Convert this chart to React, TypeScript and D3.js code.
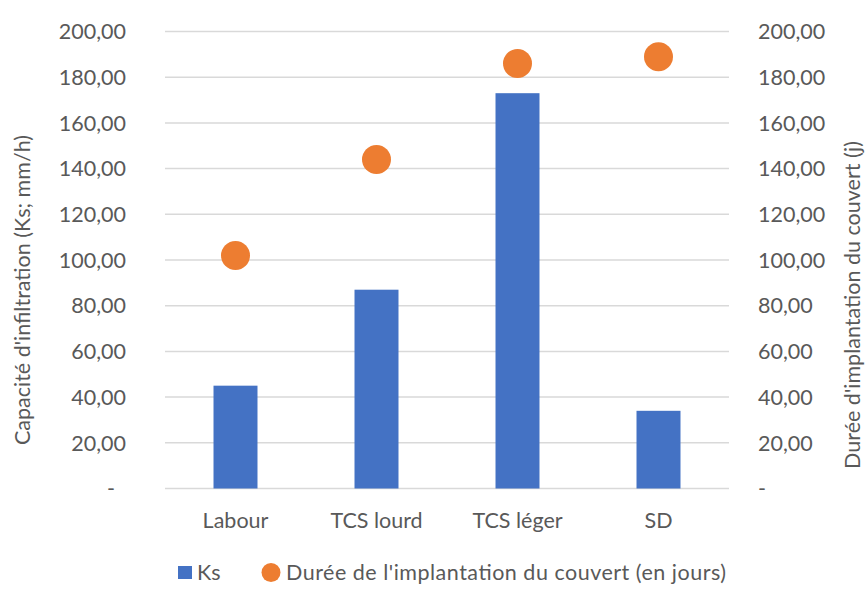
import React from "react";
import * as d3 from "d3";

// Tillage practices and their measured values
const categories = ["Labour", "TCS lourd", "TCS léger", "SD"];
const ksValues = [45, 87, 173, 34]; // saturated infiltration capacity (mm/h)
const coverDays = [102, 144, 186, 189]; // cover crop establishment duration (days)
const yTicks = [0, 20, 40, 60, 80, 100, 120, 140, 160, 180, 200];

const W = 865;
const H = 602;
const plot = { left: 165, right: 729, top: 31.5, bottom: 488.5 };
const font = "Lato, 'Open Sans', sans-serif";
const fs = 21.5;
const textColor = "#595959";
const barColor = "#4472C4";
const dotColor = "#ED7D31";

const fmt = (v: number) =>
  v === 0 ? "-" : d3.format(".2f")(v).replace(".", ",");

export default function App() {
  const x = d3
    .scaleBand<string>()
    .domain(categories)
    .range([plot.left, plot.right])
    .padding(0);
  const yLeft = d3.scaleLinear().domain([0, 200]).range([plot.bottom, plot.top]);
  const yRight = d3.scaleLinear().domain([0, 200]).range([plot.bottom, plot.top]);
  const barW = x.bandwidth() * 0.312;
  const cx = (c: string) => (x(c) ?? 0) + x.bandwidth() / 2;

  return (
    <svg
      width={W}
      height={H}
      style={{ position: "absolute", left: 0, top: 0, background: "#fff" }}
      fontFamily={font}
    >
      {/* gridlines */}
      {yTicks.map((t) => (
        <line
          key={"g" + t}
          x1={plot.left}
          x2={plot.right}
          y1={yLeft(t)}
          y2={yLeft(t)}
          stroke="#D9D9D9"
          strokeWidth={1.5}
        />
      ))}

      {/* left axis labels */}
      {yTicks.map((t) => (
        <text
          key={"l" + t}
          x={t === 0 ? 115 : 126}
          y={yLeft(t)}
          dy="0.36em"
          textAnchor="end"
          fontSize={fs}
          fill={textColor}
        >
          {fmt(t)}
        </text>
      ))}

      {/* right axis labels */}
      {yTicks.map((t) => (
        <text
          key={"r" + t}
          x={758}
          y={yRight(t)}
          dy="0.36em"
          textAnchor="start"
          fontSize={fs}
          fill={textColor}
        >
          {fmt(t)}
        </text>
      ))}

      {/* Ks bars */}
      {categories.map((c, i) => (
        <rect
          key={"b" + c}
          x={cx(c) - barW / 2}
          y={yLeft(ksValues[i])}
          width={barW}
          height={yLeft(0) - yLeft(ksValues[i])}
          fill={barColor}
        />
      ))}

      {/* cover duration markers */}
      {categories.map((c, i) => (
        <circle
          key={"d" + c}
          cx={cx(c)}
          cy={yRight(coverDays[i])}
          r={14.5}
          fill={dotColor}
        />
      ))}

      {/* category labels */}
      {categories.map((c) => (
        <text
          key={"c" + c}
          x={cx(c)}
          y={520}
          dy="0.36em"
          textAnchor="middle"
          fontSize={fs}
          fill={textColor}
        >
          {c}
        </text>
      ))}

      {/* axis titles */}
      <text
        transform="translate(22,290) rotate(-90)"
        textAnchor="middle"
        dy="0.36em"
        fontSize={fs}
        fill={textColor}
      >
        Capacité d'infiltration (Ks; mm/h)
      </text>
      <text
        transform="translate(852,305) rotate(-90)"
        textAnchor="middle"
        dy="0.36em"
        fontSize={fs}
        fill={textColor}
      >
        Durée d'implantation du couvert (j)
      </text>

      {/* legend */}
      <rect x={178} y={566} width={14} height={13} fill={barColor} />
      <text x={197} y={572.5} dy="0.36em" fontSize={fs} fill={textColor}>
        Ks
      </text>
      <circle cx={271} cy={572.5} r={9.5} fill={dotColor} />
      <text
        x={286}
        y={572.5}
        dy="0.36em"
        fontSize={fs}
        fill={textColor}
        textLength={440}
        lengthAdjust="spacing"
      >
        Durée de l'implantation du couvert (en jours)
      </text>
    </svg>
  );
}
